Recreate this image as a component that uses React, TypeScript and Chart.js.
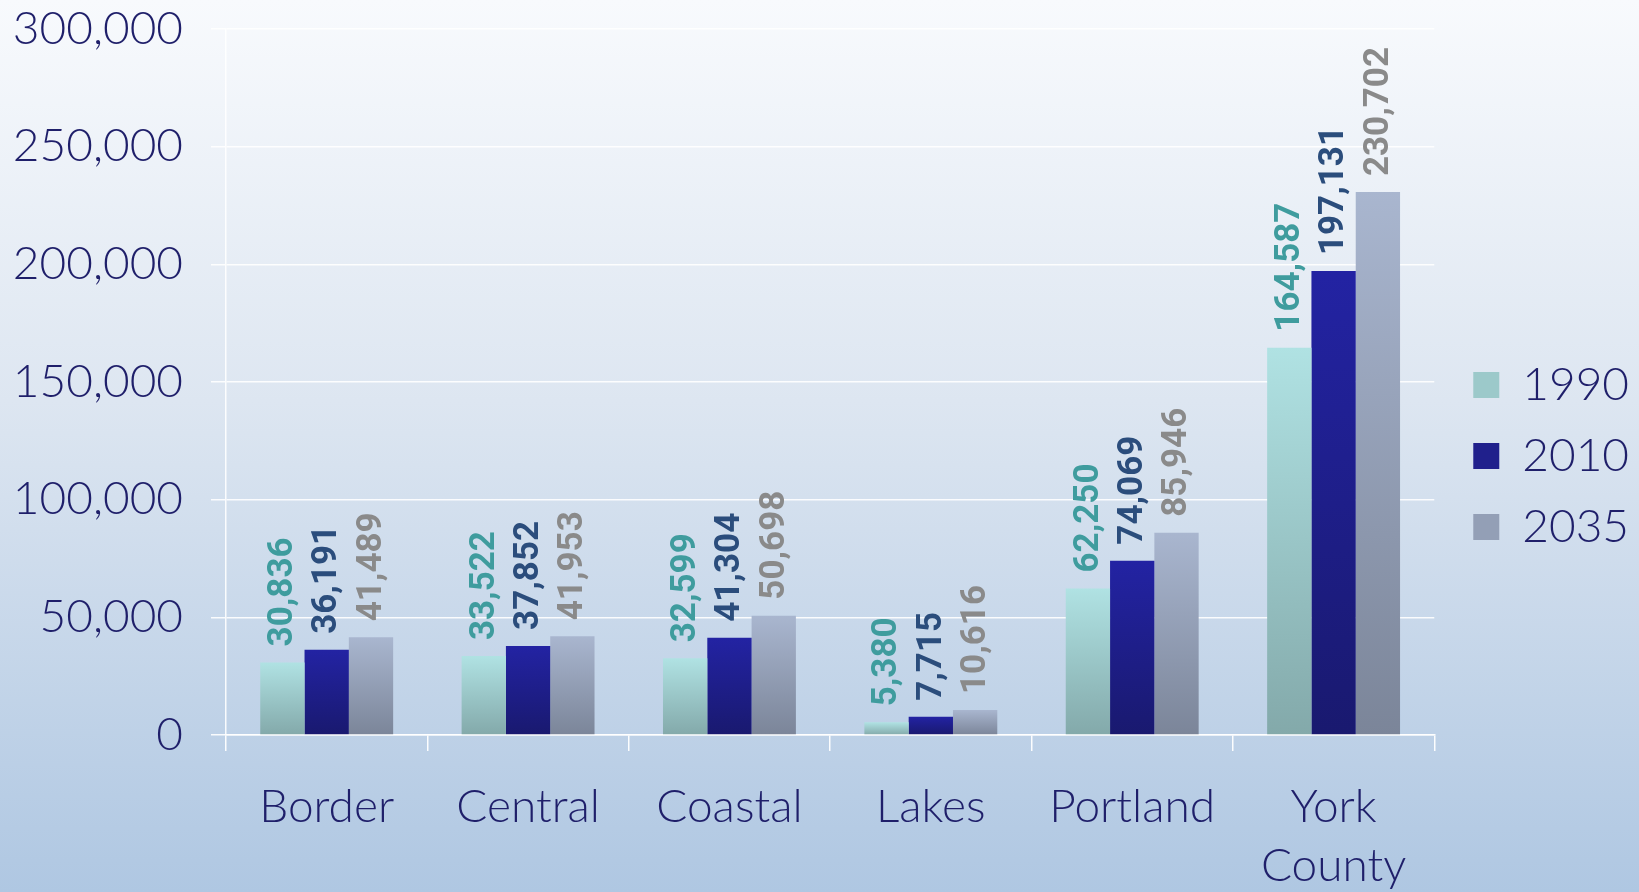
import React, { useEffect, useRef } from "react";
import { Chart, registerables } from "chart.js";

Chart.register(...registerables);

const categories: (string | string[])[] = ["Border", "Central", "Coastal", "Lakes", "Portland", ["York", "County"]];
const seriesNames = ["1990", "2010", "2035"];
const values1990 = [30836, 33522, 32599, 5380, 62250, 164587];
const values2010 = [36191, 37852, 41304, 7715, 74069, 197131];
const values2035 = [41489, 41953, 50698, 10616, 85946, 230702];
const yTicks = [0, 50000, 100000, 150000, 200000, 250000, 300000];

const gradTop = ["#b0e2e3", "#2323a3", "#a9b6cf"];
const gradBottom = ["#83a9aa", "#19196f", "#7b8599"];
const solid = ["#9cc9ca", "#20208c", "#939fb6"];
const labelColors = ["#3f9c9e", "#2b4d7c", "#8a8a8a"];

const axisFont = "Lato";
const navy = "#1f1f6a";

const fmt = (v: number) => v.toLocaleString("en-US");

export default function App() {
  const ref = useRef<HTMLCanvasElement | null>(null);

  useEffect(() => {
    let chart: any = null;
    let cancelled = false;

    const barColor = (i: number) => (c: any) => {
      const ch = c.chart;
      if (c.type !== "data" || !ch.chartArea || !ch.scales.y) return solid[i];
      const y = ch.scales.y;
      const top = y.getPixelForValue(c.parsed ? c.parsed.y : c.raw);
      const base = y.getPixelForValue(0);
      if (!isFinite(top) || !isFinite(base) || base - top < 1) return solid[i];
      const g = ch.ctx.createLinearGradient(0, top, 0, base);
      g.addColorStop(0, gradTop[i]);
      g.addColorStop(1, gradBottom[i]);
      return g;
    };

    const dataLabels = {
      id: "dataLabels",
      afterDatasetsDraw(ch: any) {
        const ctx = ch.ctx;
        ch.data.datasets.forEach((ds: any, di: number) => {
          const meta = ch.getDatasetMeta(di);
          meta.data.forEach((el: any, i: number) => {
            const v = ds.data[i];
            ctx.save();
            ctx.translate(el.x, el.y - 16);
            ctx.rotate(-Math.PI / 2);
            ctx.font = "bold 35px Roboto";
            ctx.fillStyle = labelColors[di];
            ctx.textAlign = "left";
            ctx.textBaseline = "middle";
            ctx.fillText(fmt(v), 0, 1);
            ctx.restore();
          });
        });
      },
    };

    const legendShift = {
      id: "legendShift",
      afterLayout(ch: any) {
        if (ch.legend) {
          ch.legend.left += 14;
          ch.legend.right += 14;
        }
      },
    };

    const build = () => {
      if (cancelled || !ref.current) return;
      const allSeries = [values1990, values2010, values2035];
      chart = new Chart(ref.current, {
        type: "bar",
        data: {
          labels: categories,
          datasets: allSeries.map((d, i) => ({
            label: seriesNames[i],
            data: d,
            backgroundColor: barColor(i),
            borderWidth: 0,
            barPercentage: 1,
            categoryPercentage: 0.66,
          })),
        },
        options: {
          animation: false,
          responsive: true,
          maintainAspectRatio: false,
          layout: { padding: { left: 13, top: 0, right: 14, bottom: 0 } },
          plugins: {
            tooltip: { enabled: false },
            legend: {
              position: "right",
              align: "center",
              title: { display: true, text: " ", font: { size: 10 }, padding: 4 },
              labels: {
                boxWidth: 26,
                boxHeight: 26,
                padding: 25,
                color: navy,
                font: { family: axisFont, size: 46, weight: 300 },
                generateLabels: () =>
                  seriesNames.map((n, i) => ({
                    text: n,
                    fillStyle: solid[i],
                    strokeStyle: solid[i],
                    lineWidth: 0,
                    hidden: false,
                    datasetIndex: i,
                    fontColor: navy,
                  })),
              },
            },
          },
          scales: {
            x: {
              afterFit: (s: any) => {
                s.height = 157;
              },
              grid: {
                display: true,
                offset: true,
                drawOnChartArea: false,
                drawTicks: true,
                tickLength: 16,
                color: "rgba(255,255,255,0.95)",
                lineWidth: 1.5,
              },
              border: { display: true, color: "rgba(255,255,255,0.95)", width: 1.5 },
              ticks: {
                color: navy,
                font: { family: axisFont, size: 46, weight: 300, lineHeight: 1.28 },
                padding: 27,
                maxRotation: 0,
                autoSkip: false,
              },
            },
            y: {
              min: 0,
              max: 300000,
              afterBuildTicks: (s: any) => {
                s.ticks = yTicks.map((v) => ({ value: v }));
              },
              afterFit: (s: any) => {
                s.width = 213;
                s.paddingTop = 29;
                s.paddingBottom = 29;
              },
              grid: {
                color: "rgba(255,255,255,0.9)",
                lineWidth: 1.5,
                tickLength: 15,
                drawTicks: true,
              },
              border: { display: true, color: "rgba(255,255,255,0.9)", width: 1.5 },
              ticks: {
                color: navy,
                font: { family: axisFont, size: 46, weight: 300 },
                padding: 28,
                callback: (v: any) => fmt(Number(v)),
              },
            },
          },
        },
        plugins: [dataLabels, legendShift],
      } as any);
    };

    const fontsApi: any = (document as any).fonts;
    if (fontsApi && fontsApi.load) {
      Promise.all([
        fontsApi.load("300 46px Lato"),
        fontsApi.load("bold 35px Roboto"),
      ])
        .catch(() => null)
        .then(build);
    } else {
      build();
    }

    return () => {
      cancelled = true;
      if (chart) chart.destroy();
    };
  }, []);

  return (
    <div
      style={{
        position: "fixed",
        inset: 0,
        background: "linear-gradient(to bottom, #f8fafd 0%, #dde6f1 45%, #afc7e2 100%)",
      }}
    >
      <canvas ref={ref} />
    </div>
  );
}
